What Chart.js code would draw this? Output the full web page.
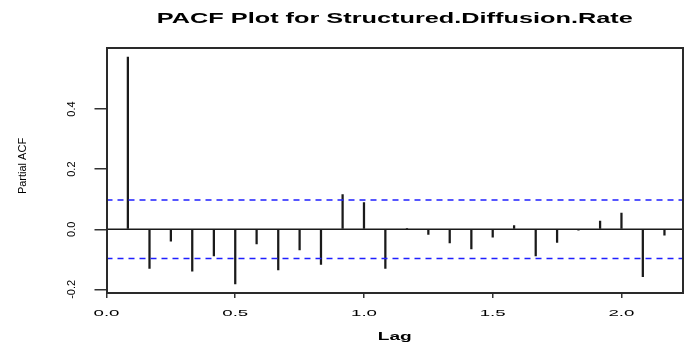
<!DOCTYPE html>
<html>
<head>
<meta charset="utf-8">
<script src="https://cdn.jsdelivr.net/npm/chart.js@4/dist/chart.umd.min.js"></script>
<style>
  html, body { margin: 0; padding: 0; background: #fff; }
  #wrap { width: 696px; height: 342px; }
</style>
</head>
<body>
<div id="wrap"><canvas id="pacf"></canvas></div>
<script>
'use strict';

// Data
const lags = [0.083, 0.167, 0.250, 0.333, 0.417, 0.500, 0.583, 0.667, 0.750, 0.833, 0.917, 1.000, 1.083,
              1.167, 1.250, 1.333, 1.417, 1.500, 1.583, 1.667, 1.750, 1.833, 1.917, 2.000, 2.083, 2.167];
const pacf = [0.573, -0.130, -0.040, -0.139, -0.089, -0.182, -0.049, -0.135, -0.069, -0.117, 0.115, 0.089, -0.130,
              0.002, -0.017, -0.045, -0.065, -0.026, 0.012, -0.089, -0.044, -0.003, 0.027, 0.054, -0.158, -0.020];
const confLimits = [0.0975, -0.0975];
const xTicks = [0, 0.5, 1.0, 1.5, 2.0];
const yTicks = [-0.2, 0.0, 0.2, 0.4];
const xRange = [0, 2.239];
const yRange = [-0.212, 0.603];

const titleText = 'PACF Plot for Structured.Diffusion.Rate';
const xTitle = 'Lag';
const yTitle = 'Partial ACF';

const FONT = '"Liberation Sans", Arial, sans-serif';
const BOX = { display: true, color: '#2a2a2a', width: 2 };

// Draw text squeezed/stretched to the look of the original bitmap
function drawText(ctx, text, x, y, font, sx, rotate) {
    ctx.save();
    ctx.font = font;
    ctx.fillStyle = '#000';
    ctx.textAlign = 'center';
    ctx.textBaseline = 'middle';
    ctx.translate(x, y);
    if (rotate) ctx.rotate(-Math.PI / 2);
    ctx.scale(sx, 1);
    ctx.fillText(text, 0, 0);
    ctx.restore();
}

const rDecor = {
    id: 'rDecor',
    afterDraw(chart) {
        const { ctx, chartArea: a, scales } = chart;
        const midX = (a.left + a.right) / 2;

        // plot box, as four thin filled strips
        const L = Math.round(a.left) - 1, R = Math.round(a.right) - 1;
        const T = Math.round(a.top) - 1, B = Math.round(a.bottom) - 1;
        ctx.save();
        ctx.fillStyle = '#2a2a2a';
        ctx.fillRect(L, T, R - L + 2, 2);
        ctx.fillRect(L, B, R - L + 2, 2);
        ctx.fillRect(L, T, 2, B - T + 2);
        ctx.fillRect(R, T, 2, B - T + 2);
        ctx.restore();

        // title
        ctx.font = 'bold 15px ' + FONT;
        const tw = ctx.measureText(titleText).width;
        drawText(ctx, titleText, midX, 19, 'bold 15px ' + FONT, 476 / tw, false);

        // x tick labels
        ctx.font = '9.5px ' + FONT;
        const sx = 26 / ctx.measureText('0.0').width;
        scales.x.ticks.forEach(t => {
            drawText(ctx, t.value.toFixed(1), scales.x.getPixelForValue(t.value), 313, '9.5px ' + FONT, sx, false);
        });

        // y tick labels (rotated, R style)
        scales.y.ticks.forEach(t => {
            drawText(ctx, t.value.toFixed(1), 72, scales.y.getPixelForValue(t.value), '11px ' + FONT, 1, true);
        });

        // axis titles
        ctx.font = 'bold 11px ' + FONT;
        const lw = ctx.measureText(xTitle).width;
        drawText(ctx, xTitle, midX, 337, 'bold 11px ' + FONT, 34 / lw, false);
        drawText(ctx, yTitle, 22.5, 166, '11px ' + FONT, 1, true);
    }
};

const hLine = (y) => [{ x: xRange[0], y: y }, { x: xRange[1], y: y }];

new Chart(document.getElementById('pacf'), {
    type: 'bar',
    data: {
        datasets: [
            {
                type: 'bar',
                data: lags.map((x, i) => ({ x: x, y: pacf[i] })),
                backgroundColor: '#1a1a1a',
                barThickness: 1.6,
                order: 2
            },
            {
                type: 'line',
                data: hLine(0),
                borderColor: '#1a1a1a',
                borderWidth: 1.5,
                pointRadius: 0,
                order: 1
            },
            ...confLimits.map(c => ({
                type: 'line',
                data: hLine(c),
                borderColor: '#1f1fff',
                borderWidth: 1.5,
                borderDash: [6, 5],
                pointRadius: 0,
                order: 0
            }))
        ]
    },
    options: {
        responsive: true,
        maintainAspectRatio: false,
        animation: false,
        layout: { padding: { top: 48, right: 13, left: 0, bottom: 0 } },
        scales: {
            x: {
                type: 'linear',
                offset: false,
                min: xRange[0],
                max: xRange[1],
                afterBuildTicks: s => { s.ticks = xTicks.map(v => ({ value: v })); },
                afterFit: s => { s.height = 49; },
                ticks: { display: false },
                grid: { offset: false, drawOnChartArea: false, drawTicks: true, tickLength: 5, color: '#333', lineWidth: 1.5 },
                border: BOX
            },
            y: {
                type: 'linear',
                min: yRange[0],
                max: yRange[1],
                afterBuildTicks: s => { s.ticks = yTicks.map(v => ({ value: v })); },
                afterFit: s => { s.width = 106.5; },
                ticks: { display: false },
                grid: { drawOnChartArea: false, drawTicks: true, tickLength: 12, color: '#333', lineWidth: 1.5 },
                border: BOX
            },
            xTop: {
                type: 'linear',
                position: 'top',
                min: xRange[0],
                max: xRange[1],
                afterFit: s => { s.height = 0; },
                ticks: { display: false },
                grid: { display: false },
                border: BOX
            },
            yRight: {
                type: 'linear',
                position: 'right',
                min: yRange[0],
                max: yRange[1],
                afterFit: s => { s.width = 0; },
                ticks: { display: false },
                grid: { display: false },
                border: BOX
            }
        },
        plugins: {
            legend: { display: false },
            tooltip: { enabled: false },
            title: { display: false }
        }
    },
    plugins: [rDecor]
});
</script>
</body>
</html>
